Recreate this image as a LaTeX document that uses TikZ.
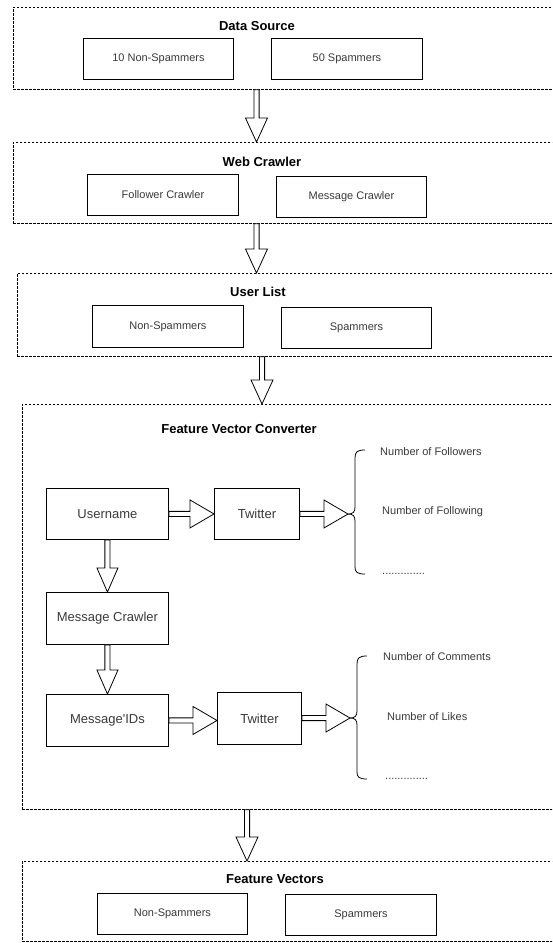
\documentclass[tikz,border=0pt]{standalone}
\usepackage{fontspec}
\setmainfont{Liberation Sans}
\usetikzlibrary{calc}
\definecolor{txt}{HTML}{3A3A3A}
\tikzset{
 dbox/.style={draw, dash pattern=on 2.5pt off 1.5pt, line width=0.7pt, anchor=north west, inner sep=0pt},
 sbox/.style={draw, line width=0.9pt, anchor=north west, inner sep=0pt, text=txt},
 ttl/.style={font=\bfseries\fontsize{13}{15}\selectfont},
 small/.style={font=\fontsize{11}{13}\selectfont},
 big/.style={font=\fontsize{13}{15}\selectfont},
 lbl/.style={anchor=west, text=txt, inner sep=0pt, font=\fontsize{11}{13}\selectfont},
 arr/.style={draw, line width=0.8pt, fill=white, line join=miter},
 brc/.style={draw, line width=0.8pt},
}
% hollow block arrow: [head half width]{from}{to}
\newcommand\barrow[3][11]{%
  \coordinate (bh) at ($(#3)!24pt!(#2)$);
  \draw[arr] ($(#2)!2.6pt!90:(#3)$) -- ($(bh)!2.6pt!90:(#3)$) -- ($(bh)!#1pt!90:(#3)$)
    -- (#3) -- ($(bh)!#1pt!-90:(#3)$) -- ($(bh)!2.6pt!-90:(#3)$) -- ($(#2)!2.6pt!-90:(#3)$) -- cycle;}
\begin{document}
\begin{tikzpicture}[x=1pt,y=-1pt]
\useasboundingbox (0,0) rectangle (552,943);
\clip (0,0) rectangle (552,943);
\fill[white] (0,0) rectangle (552,943);

% dashed group boxes (right side runs off the picture)
\node[dbox, minimum width=560pt, minimum height=82pt] (ds)  at (13,7) {};
\node[dbox, minimum width=560pt, minimum height=81pt] (wc)  at (13,142) {};
\node[dbox, minimum width=560pt, minimum height=83pt] (ul)  at (17,273) {};
\node[dbox, minimum width=560pt, minimum height=405pt] (fvc) at (22,404) {};
\node[dbox, minimum width=560pt, minimum height=80pt] (fv)  at (22,861) {};

% titles
\node[ttl] (t1) at (257,26) {Data Source};
\node[ttl] (t2) at (262,162) {Web Crawler};
\node[ttl] (t3) at (258,292) {User List};
\node[ttl] (t4) at (239,429) {Feature Vector Converter};
\node[ttl] (t5) at (275,879) {Feature Vectors};

% boxes
\node[sbox,small,minimum width=150pt,minimum height=41pt] (ns1) at (83,38) {10 Non-Spammers};
\node[sbox,small,minimum width=151pt,minimum height=41pt] (sp1) at (271,38) {50 Spammers};
\node[sbox,small,minimum width=151pt,minimum height=41pt] (fc)  at (87,174) {Follower Crawler};
\node[sbox,small,minimum width=150pt,minimum height=41pt] (mcw) at (276,176) {Message Crawler};
\node[sbox,small,minimum width=151pt,minimum height=42pt] (ns2) at (92,305) {Non-Spammers};
\node[sbox,small,minimum width=150pt,minimum height=41pt] (sp2) at (281,307) {Spammers};
\node[sbox,big,minimum width=122pt,minimum height=51pt] (un)  at (46,488) {Username};
\node[sbox,big,minimum width=85pt,minimum height=51pt]  (tw1) at (214,488) {Twitter};
\node[sbox,big,minimum width=122pt,minimum height=52pt] (mc)  at (46,592) {Message Crawler};
\node[sbox,big,minimum width=122pt,minimum height=52pt] (mid) at (46,694) {Message\textquotesingle IDs};
\node[sbox,big,minimum width=84pt,minimum height=52pt]  (tw2) at (217,692) {Twitter};
\node[sbox,small,minimum width=150pt,minimum height=41pt] (ns3) at (97,893) {Non-Spammers};
\node[sbox,small,minimum width=151pt,minimum height=41pt] (sp3) at (285,894) {Spammers};

% feature labels
\node[lbl] (f1) at (380,452) {Number of Followers};
\node[lbl] (f2) at (382,512) {Number of Following};
\node[lbl] (f3) at (382,574) {..............};
\node[lbl] (g1) at (383,657) {Number of Comments};
\node[lbl] (g2) at (387,717) {Number of Likes};
\node[lbl] (g3) at (385,779) {..............};

% braces
\coordinate (b1) at (348,514);
\coordinate (b2) at (350,718);
\draw[brc] (365,450) .. controls (357,450) and (355,452) .. (355,458) -- (355,507)
  .. controls (355,512) and (353,514) .. (b1) .. controls (353,514) and (355,516) .. (355,521)
  -- (355,567) .. controls (355,572) and (357,574) .. (365,574);
\draw[brc] (367,656) .. controls (359,656) and (357,658) .. (357,664) -- (357,711)
  .. controls (357,716) and (355,718) .. (b2) .. controls (355,718) and (357,720) .. (357,725)
  -- (357,772) .. controls (357,777) and (359,779) .. (367,779);

% stage arrows
\coordinate (a1s) at (ds.south -| 256.5,0);
\coordinate (a1e) at (wc.north -| 256.5,0);
\coordinate (a2s) at (wc.south -| 256.5,0);
\coordinate (a2e) at (ul.north -| 256.5,0);
\coordinate (a3s) at (ul.south -| 262,0);
\coordinate (a3e) at (fvc.north -| 262,0);
\coordinate (a4s) at (fvc.south -| 247,0);
\coordinate (a4e) at (fv.north -| 247,0);
\barrow{a1s}{a1e}
\barrow{a2s}{a2e}
\barrow{a3s}{a3e}
\barrow{a4s}{a4e}

% inner arrows
\coordinate (m1) at (mid.east);
\coordinate (m2) at (mid.east -| tw2.west);
\coordinate (c1) at (tw1.east);
\coordinate (c2) at (tw2.east |- b2);
\barrow[14]{un.east}{tw1.west}
\barrow[14]{c1}{b1}
\barrow[10.5]{un.south}{mc.north}
\barrow[10.5]{mc.south}{mid.north}
\barrow[14]{m1}{m2}
\barrow[14]{c2}{b2}
\end{tikzpicture}
\end{document}
